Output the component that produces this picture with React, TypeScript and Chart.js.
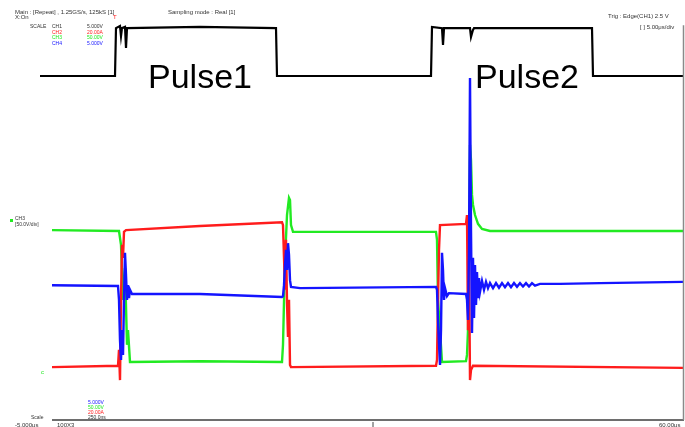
import React, { useEffect, useRef } from "react";
import { Chart, registerables } from "chart.js";

Chart.register(...registerables);

type Pt = [number, number];

// time in µs, level in screen divisions (0 = bottom of the grid, 10 = top)
const timeMin = -5.2;
const timeMax = 63.1;
const divMin = 0;
const divMax = 10;

// CH1 – gate command (black)
const ch1Gate: Pt[] = [
  [-1.2, 8.19], [6.3, 8.19], [6.4, 9.33], [6.8, 9.38], [6.9, 9.14], [7.0, 9.33],
  [7.3, 9.36], [7.4, 8.86], [7.5, 9.33], [14.8, 9.36], [22.4, 9.33], [22.5, 8.19],
  [37.9, 8.19], [38.0, 9.36], [39.0, 9.33], [39.1, 8.93], [39.2, 9.33], [41.8, 9.33],
  [41.9, 9.12], [42.1, 9.29], [42.2, 9.33], [54.0, 9.33], [54.1, 8.19], [63.3, 8.19],
];

// CH2 – current (red)
const ch2Current: Pt[] = [
  [0, 1.26], [6.6, 1.29], [6.7, 1.67], [6.8, 0.95], [6.9, 2.86], [7.0, 4.17],
  [7.1, 3.86], [7.2, 4.48], [7.4, 4.52], [14.8, 4.62], [23.0, 4.71], [23.1, 4.64],
  [23.3, 3.1], [23.4, 4.29], [23.5, 2.79], [23.6, 1.98], [23.7, 2.86], [23.8, 1.31],
  [23.9, 1.26], [38.4, 1.29], [38.5, 1.43], [38.6, 2.86], [38.7, 4.05], [38.8, 4.64],
  [41.4, 4.67], [41.5, 4.88], [41.6, 2.14], [41.7, 3.81], [41.8, 0.95], [41.9, 1.19],
  [42.1, 1.29], [63.3, 1.24],
];

// CH3 – drain voltage (green)
const ch3Vds: Pt[] = [
  [0, 4.52], [6.7, 4.5], [6.9, 4.17], [7.1, 2.86], [7.3, 3.62], [7.5, 1.79],
  [7.6, 2.14], [7.8, 1.38], [14.8, 1.4], [23.0, 1.38], [23.1, 1.79], [23.3, 3.81],
  [23.5, 4.88], [23.7, 5.29], [23.8, 5.24], [23.9, 4.64], [24.1, 4.48], [38.4, 4.48],
  [38.5, 4.29], [38.6, 2.86], [38.8, 2.14], [39.0, 1.38], [41.4, 1.4], [41.5, 1.55],
  [41.6, 2.14], [41.7, 4.05], [41.8, 6.55], [41.9, 6.19], [42.0, 5.36], [42.1, 5.12],
  [42.3, 4.88], [42.6, 4.67], [43.0, 4.55], [43.8, 4.5], [63.3, 4.5],
];

// CH4 – gate voltage (blue)
const ch4Vgs: Pt[] = [
  [0, 3.21], [6.6, 3.19], [6.7, 2.86], [6.8, 1.9], [6.9, 1.43], [7.0, 2.14],
  [7.1, 1.55], [7.2, 2.86], [7.3, 3.98], [7.4, 3.45], [7.5, 2.86], [7.6, 3.21],
  [7.7, 2.9], [7.8, 3.1], [8.0, 3.0], [14.8, 3.0], [23.0, 2.93], [23.1, 2.95],
  [23.2, 3.21], [23.3, 3.69], [23.4, 4.05], [23.5, 3.57], [23.6, 4.21], [23.7, 3.93],
  [23.8, 3.33], [23.9, 3.17], [24.8, 3.14], [38.4, 3.17], [38.5, 3.1], [38.6, 2.38],
  [38.7, 1.79], [38.8, 1.31], [38.9, 2.14], [39.0, 3.98], [39.1, 3.57], [39.2, 2.86],
  [39.3, 3.14], [39.5, 2.95], [39.7, 3.02], [41.4, 3.0], [41.5, 2.86], [41.6, 2.38],
  [41.7, 4.05], [41.8, 8.14], [41.9, 4.52], [42.0, 2.07], [42.1, 3.86], [42.2, 2.43],
  [42.3, 3.69], [42.4, 2.74], [42.5, 3.52], [42.6, 2.9], [42.7, 3.38], [42.8, 3.05],
  [43.0, 3.31], [43.2, 3.1], [43.4, 3.29], [43.6, 3.14], [43.8, 3.26], [44.1, 3.14],
  [44.4, 3.26], [44.7, 3.15], [45.0, 3.26], [45.3, 3.16], [45.6, 3.26], [45.9, 3.16],
  [46.2, 3.26], [46.5, 3.17], [46.8, 3.26], [47.1, 3.18], [47.4, 3.26], [47.7, 3.18],
  [48.0, 3.26], [48.3, 3.2], [48.8, 3.24], [50.8, 3.24], [54.8, 3.26], [63.3, 3.29],
];

const gridStart = 0; // µs, left edge of the graticule
const centerMark = 32.1; // µs

const toXY = (pts: Pt[]) => pts.map(([x, y]) => ({ x, y }));

const framePlugin = {
  id: "scopeFrame",
  afterDraw(chart: any) {
    const { ctx, scales } = chart;
    const xs = scales.x;
    const ys = scales.y;
    const x0 = xs.getPixelForValue(gridStart);
    const x1 = xs.getPixelForValue(timeMax);
    const yb = ys.getPixelForValue(divMin);
    const yt = ys.getPixelForValue(9.4);
    ctx.save();
    ctx.strokeStyle = "#6e6e6e";
    ctx.lineWidth = 2;
    ctx.beginPath();
    ctx.moveTo(x0, yb);
    ctx.lineTo(x1 + 1, yb);
    ctx.stroke();
    ctx.strokeStyle = "#8a8a8a";
    ctx.lineWidth = 1.5;
    ctx.beginPath();
    ctx.moveTo(x1 + 0.5, yt);
    ctx.lineTo(x1 + 0.5, yb);
    ctx.stroke();
    const xm = xs.getPixelForValue(centerMark);
    ctx.strokeStyle = "#444";
    ctx.lineWidth = 1;
    ctx.beginPath();
    ctx.moveTo(xm, yb + 2);
    ctx.lineTo(xm, yb + 7);
    ctx.stroke();
    ctx.restore();
  },
};

const small: React.CSSProperties = {
  position: "absolute",
  fontFamily: "'Liberation Sans', Arial, sans-serif",
  fontSize: "6px",
  lineHeight: "6px",
  whiteSpace: "nowrap",
  color: "#333",
};

const tiny: React.CSSProperties = { ...small, fontSize: "5px", lineHeight: "5px" };

const big: React.CSSProperties = {
  position: "absolute",
  fontFamily: "'Liberation Sans', Arial, sans-serif",
  fontSize: "34px",
  lineHeight: "34px",
  whiteSpace: "nowrap",
  color: "#000",
};

export default function App() {
  const ref = useRef<HTMLCanvasElement | null>(null);

  useEffect(() => {
    if (!ref.current) return;
    const chart = new Chart(ref.current, {
      type: "line",
      data: {
        datasets: [
          { label: "CH4", data: toXY(ch4Vgs), borderColor: "#1414ff", borderWidth: 2.4 },
          { label: "CH2", data: toXY(ch2Current), borderColor: "#ff1c1c", borderWidth: 2.4 },
          { label: "CH3", data: toXY(ch3Vds), borderColor: "#22ea22", borderWidth: 2.4 },
          { label: "CH1", data: toXY(ch1Gate), borderColor: "#000000", borderWidth: 2.2 },
        ] as any,
      },
      options: {
        animation: false,
        responsive: false,
        devicePixelRatio: 1,
        parsing: false as any,
        normalized: true,
        layout: { padding: { left: 0, right: 2, top: 0, bottom: 7 } },
        elements: { point: { radius: 0 }, line: { tension: 0, fill: false } },
        plugins: { legend: { display: false }, tooltip: { enabled: false } },
        scales: {
          x: { type: "linear", min: timeMin, max: timeMax, display: false },
          y: { type: "linear", min: divMin, max: divMax, display: false },
        },
      },
      plugins: [framePlugin],
    });
    return () => chart.destroy();
  }, []);

  return (
    <div style={{ position: "absolute", left: 0, top: 0, width: 685, height: 427, background: "#fff" }}>
      <canvas ref={ref} width={685} height={427} style={{ display: "block", width: 685, height: 427 }} />

      <div style={{ ...small, left: 15, top: 9 }}>Main : [Repeat] , 1.25GS/s, 125kS [1]</div>
      <div style={{ ...small, left: 15, top: 14 }}>X:On</div>
      <div style={{ ...small, left: 168, top: 9 }}>Sampling mode : Real [1]</div>
      <div style={{ ...small, left: 113, top: 14, color: "#ff1c1c" }}>T</div>

      <div style={{ ...tiny, left: 30, top: 24 }}>SCALE</div>
      <div style={{ ...tiny, left: 52, top: 24 }}>CH1</div>
      <div style={{ ...tiny, left: 52, top: 30, color: "#ff1c1c" }}>CH2</div>
      <div style={{ ...tiny, left: 52, top: 35, color: "#22ea22" }}>CH3</div>
      <div style={{ ...tiny, left: 52, top: 41, color: "#1414ff" }}>CH4</div>
      <div style={{ ...tiny, left: 87, top: 24 }}>5.000V</div>
      <div style={{ ...tiny, left: 87, top: 30, color: "#ff1c1c" }}>20.00A</div>
      <div style={{ ...tiny, left: 87, top: 35, color: "#22ea22" }}>50.00V</div>
      <div style={{ ...tiny, left: 87, top: 41, color: "#1414ff" }}>5.000V</div>

      <div style={{ ...small, left: 608, top: 13 }}>Trig : Edge(CH1) 2.5 V</div>
      <div style={{ ...small, left: 640, top: 24 }}>[ ] 5.00μs/div</div>

      <div style={{ position: "absolute", left: 10, top: 219, width: 3, height: 3, background: "#22ea22" }} />
      <div style={{ ...tiny, left: 15, top: 216 }}>CH3</div>
      <div style={{ ...tiny, left: 15, top: 222 }}>[50.0V/div]</div>
      <div style={{ ...small, left: 41, top: 369, color: "#22ea22" }}>c</div>

      <div style={{ ...tiny, left: 88, top: 400, color: "#1414ff" }}>5.000V</div>
      <div style={{ ...tiny, left: 88, top: 405, color: "#22ea22" }}>50.00V</div>
      <div style={{ ...tiny, left: 88, top: 410, color: "#ff1c1c" }}>20.00A</div>
      <div style={{ ...tiny, left: 88, top: 415 }}>250.0ns</div>
      <div style={{ ...tiny, left: 31, top: 415 }}>Scale</div>
      <div style={{ ...small, left: 15, top: 422 }}>-5.000μs</div>
      <div style={{ ...small, left: 57, top: 422 }}>100X3</div>
      <div style={{ ...small, left: 659, top: 422 }}>60.00μs</div>

      <div style={{ ...big, left: 148, top: 59 }}>Pulse1</div>
      <div style={{ ...big, left: 475, top: 59 }}>Pulse2</div>
    </div>
  );
}
